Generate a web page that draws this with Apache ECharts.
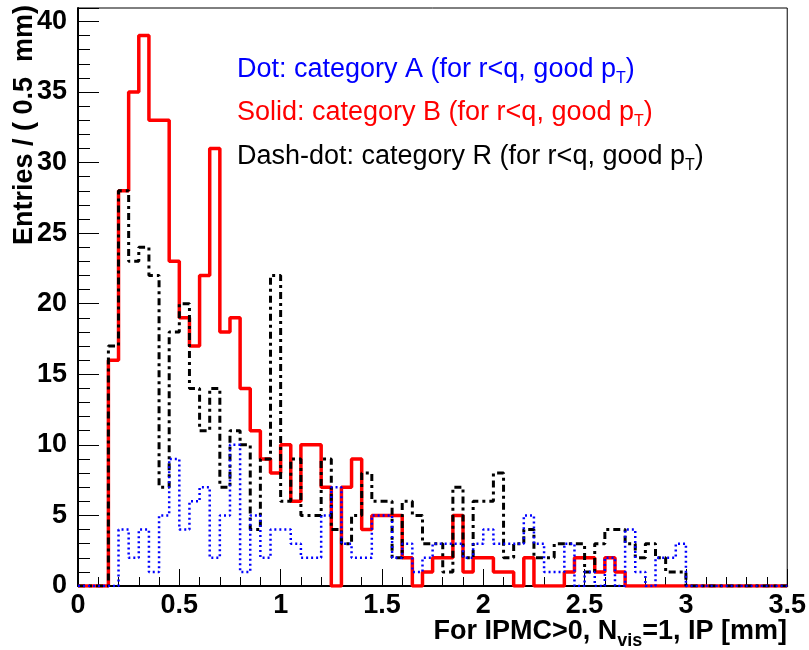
<!DOCTYPE html>
<html lang="en">
<head>
    <meta charset="UTF-8">
    <title>IP distribution</title>
    <script src="https://cdn.jsdelivr.net/npm/echarts@6/dist/echarts.min.js"></script>
    <style>
        body { margin: 0; background: #fff; }
        #chart { width: 809px; height: 650px; }
    </style>
</head>
<body>
    <div id="chart"></div>
    <script>
        // histogram settings: 70 bins of 0.05 mm from 0 to 3.5
        var binWidth = 0.05;
        var xMax = 3.5;
        var xTicks = [0, 0.5, 1, 1.5, 2, 2.5, 3, 3.5];

        // category A (dotted, blue)
        var catA = [0, 0, 0, 0, 4, 2, 4, 1, 5, 9,
                    4, 6, 7, 2, 5, 10, 1, 5, 2, 4,
                    4, 3, 2, 2, 5, 7, 3, 2, 2, 5,
                    5, 2, 3, 1, 2, 3, 3, 3, 2, 3,
                    4, 3, 3, 3, 5, 3, 1, 1, 3, 0,
                    1, 0, 2, 0, 4, 1, 0, 2, 2, 3,
                    0, 0, 0, 0, 0, 0, 0, 0, 0, 0];
        // category B (solid, red)
        var catB = [0, 0, 0, 16, 28, 35, 39, 33, 33, 23,
                    19, 17, 22, 31, 18, 19, 14, 11, 9, 8,
                    10, 6, 10, 10, 7, 0, 7, 9, 4, 5,
                    5, 5, 2, 0, 1, 2, 2, 5, 1, 2,
                    2, 1, 1, 0, 2, 0, 0, 0, 1, 2,
                    2, 1, 2, 1, 0, 0, 0, 0, 0, 0,
                    0, 0, 0, 0, 0, 0, 0, 0, 0, 0];
        // category R (dash-dot, black)
        var catR = [0, 0, 0, 17, 28, 23, 24, 22, 7, 18,
                    20, 14, 11, 14, 7, 11, 10, 4, 9, 22,
                    6, 9, 5, 5, 9, 4, 3, 5, 8, 6,
                    6, 2, 6, 5, 3, 3, 1, 7, 2, 6,
                    6, 8, 2, 3, 4, 2, 2, 3, 3, 3,
                    1, 3, 4, 4, 3, 2, 3, 2, 1, 1,
                    0, 0, 0, 0, 0, 0, 0, 0, 0, 0];

        // turn bin contents into step points (left edge of each bin + right end)
        function toSteps(vals) {
            var pts = vals.map(function (v, i) {
                return [+(i * binWidth).toFixed(2), v];
            });
            pts.push([xMax, vals[vals.length - 1]]);
            return pts;
        }

        var font = 'Liberation Sans, Arial, Helvetica, sans-serif';
        var chart = echarts.init(document.getElementById('chart'));

        // one legend line with a p_T subscript
        function legendLine(y, label, color) {
            return {
                type: 'text', x: 237, y: y,
                style: {
                    text: '{t|' + label + ' (for r<q, good p}{s|T}{t|)}',
                    verticalAlign: 'middle',
                    rich: {
                        t: { font: '27px ' + font, fill: color },
                        s: { font: '16px ' + font, fill: color, padding: [17, 0, 0, 0] }
                    }
                }
            };
        }

        chart.setOption({
            animation: false,
            backgroundColor: '#fff',
            grid: {
                left: 78, right: 20, top: 8, bottom: 64,
                show: true, borderColor: '#000', borderWidth: 1
            },
            xAxis: {
                type: 'value',
                min: 0, max: xMax, interval: 0.5,
                axisLine: { lineStyle: { color: '#000', width: 2 } },
                axisTick: { inside: true, length: 17, lineStyle: { color: '#000' } },
                minorTick: { show: true, splitNumber: 5, length: 9, lineStyle: { color: '#000' } },
                splitLine: { show: false },
                axisLabel: {
                    margin: 6, color: '#000', fontFamily: font, fontWeight: 'bold', fontSize: 27,
                    formatter: function (v) { return xTicks.indexOf(v) >= 0 ? String(v) : ''; }
                }
            },
            yAxis: {
                type: 'value',
                min: 0, max: 40.95, interval: 5,
                axisLine: { lineStyle: { color: '#000', width: 2 } },
                axisTick: { inside: true, length: 21, lineStyle: { color: '#000' } },
                minorTick: { show: true, splitNumber: 5, length: 12, lineStyle: { color: '#000' } },
                splitLine: { show: false },
                axisLabel: {
                    margin: 11, color: '#000', fontFamily: font, fontWeight: 'bold', fontSize: 27,
                    showMaxLabel: false
                }
            },
            series: [
                {
                    name: 'B', type: 'line', step: 'end', symbol: 'none',
                    data: toSteps(catB),
                    lineStyle: { color: '#ff0000', width: 3.5 }
                },
                {
                    name: 'R', type: 'line', step: 'end', symbol: 'none',
                    data: toSteps(catR),
                    lineStyle: { color: '#000', width: 3, type: [7, 4, 3, 4] }
                },
                {
                    name: 'A', type: 'line', step: 'end', symbol: 'none',
                    data: toSteps(catA),
                    lineStyle: { color: '#0000ff', width: 2.5, type: [2, 3] }
                }
            ],
            graphic: [
                // y axis title
                {
                    type: 'text', x: 25, y: 5, rotation: Math.PI / 2,
                    style: {
                        text: 'Entries / ( 0.5  mm)', fill: '#000',
                        font: 'bold 27px ' + font, align: 'right', verticalAlign: 'middle'
                    }
                },
                // x axis title
                {
                    type: 'text', x: 787, y: 632,
                    style: {
                        text: '{b|For IPMC>0, N}{s|vis}{b|=1, IP [mm]}',
                        align: 'right', verticalAlign: 'middle',
                        rich: {
                            b: { font: 'bold 27px ' + font, fill: '#000' },
                            s: { font: 'bold 18px ' + font, fill: '#000', padding: [18, 0, 0, 0] }
                        }
                    }
                },
                legendLine(70, 'Dot: category A', '#0000ff'),
                legendLine(113, 'Solid: category B', '#ff0000'),
                legendLine(157, 'Dash-dot: category R', '#000')
            ]
        });
    </script>
</body>
</html>
